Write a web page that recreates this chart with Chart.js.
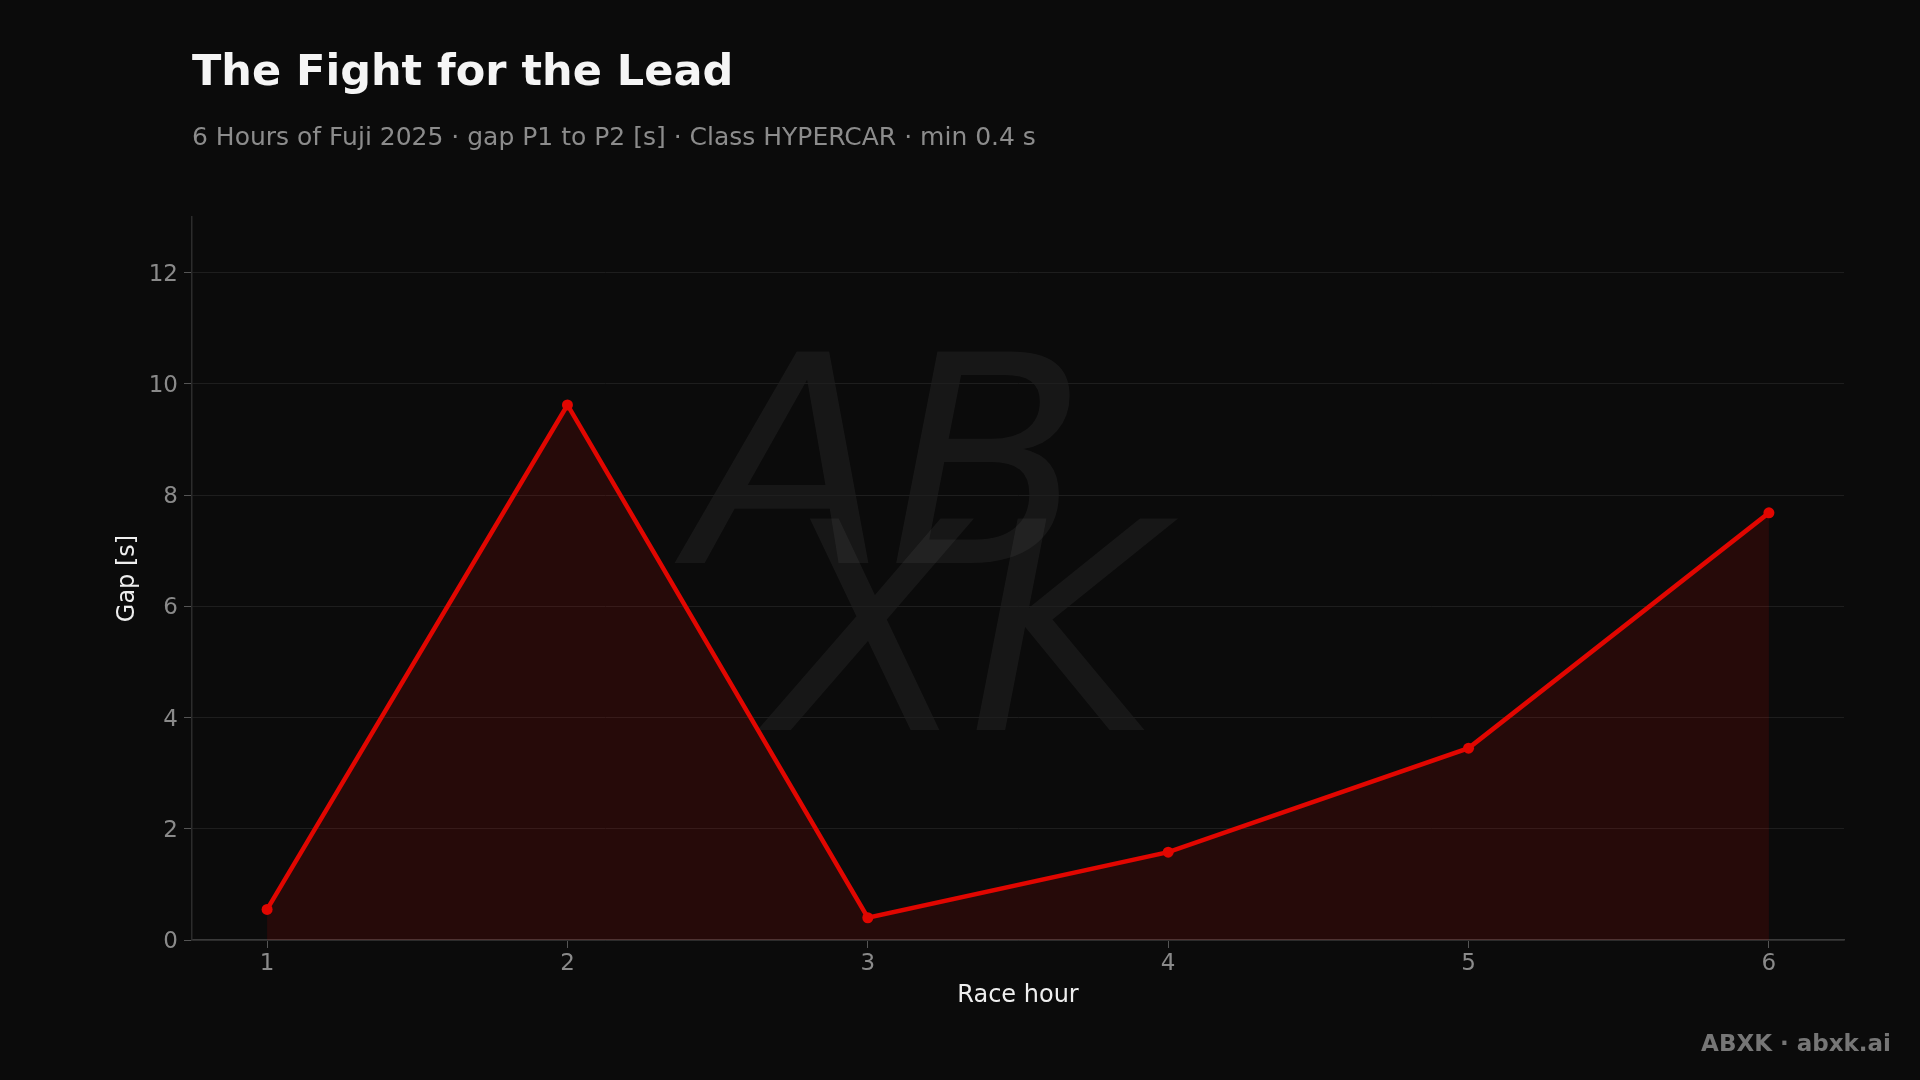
<!DOCTYPE html>
<html>
<head>
<meta charset="utf-8">
<script src="https://cdn.jsdelivr.net/npm/chart.js@4.4.1/dist/chart.umd.min.js"></script>
<style>
    html, body { margin: 0; padding: 0; background: #0b0b0b; }
    body { width: 1920px; height: 1080px; position: relative; overflow: hidden; font-family: "DejaVu Sans", sans-serif; }
    #chart { position: absolute; left: 0; top: 0; }
    .title { position: absolute; left: 192px; top: 45px; font-size: 43px; font-weight: bold; color: #f5f5f5; white-space: nowrap; }
    .subtitle { position: absolute; left: 192px; top: 122px; font-size: 25px; color: #8c8c8c; white-space: nowrap; }
    .footer { position: absolute; right: 29px; top: 1030px; font-size: 23px; font-weight: bold; color: #767676; white-space: nowrap; }
</style>
</head>
<body>
<canvas id="chart" width="1920" height="1080"></canvas>
<div class="title">The Fight for the Lead</div>
<div class="subtitle">6 Hours of Fuji 2025 · gap P1 to P2 [s] · Class HYPERCAR · min 0.4 s</div>
<div class="footer">ABXK · abxk.ai</div>
<script>
// race hours and the gap between P1 and P2 at each one
const raceHours = [1, 2, 3, 4, 5, 6];
const gapSeconds = [0.55, 9.62, 0.40, 1.58, 3.45, 7.68];
const xTicks = [1, 2, 3, 4, 5, 6];
const yTicks = [0, 2, 4, 6, 8, 10, 12];

const lineColor = '#e10600';
const tickColor = '#8a8a8a';

// faint signature watermark behind the plot
const watermark = {
    id: 'watermark',
    beforeDraw(chart) {
        const ctx = chart.ctx;
        ctx.save();
        ctx.fillStyle = '#0b0b0b';
        ctx.fillRect(0, 0, chart.width, chart.height);
        ctx.fillStyle = 'rgba(255,255,255,0.05)';
        ctx.font = 'italic 200 290px "DejaVu Sans"';
        ctx.textBaseline = 'alphabetic';
        ctx.fillText('AB', 690, 563);
        ctx.fillText('XK', 770, 730);
        ctx.restore();
    }
};

const points = raceHours.map((h, i) => ({ x: h, y: gapSeconds[i] }));

new Chart(document.getElementById('chart'), {
    type: 'line',
    data: {
        datasets: [{
            data: points,
            borderColor: lineColor,
            borderWidth: 4.5,
            backgroundColor: 'rgba(225,6,0,0.13)',
            fill: 'origin',
            pointRadius: 5.5,
            pointBackgroundColor: lineColor,
            pointBorderWidth: 0,
            tension: 0
        }]
    },
    options: {
        responsive: false,
        animation: false,
        layout: {
            padding: { left: 109, top: 217, right: 76, bottom: 66 }
        },
        plugins: {
            legend: { display: false },
            tooltip: { enabled: false }
        },
        scales: {
            x: {
                type: 'linear',
                min: 0.75,
                max: 6.25,
                afterBuildTicks: scale => { scale.ticks = xTicks.map(v => ({ value: v })); },
                afterFit: scale => { scale.height = 74; },
                grid: {
                    drawOnChartArea: false,
                    drawTicks: true,
                    tickLength: 8,
                    color: '#555555'
                },
                border: { color: '#3a3a3a', width: 1.5 },
                ticks: {
                    color: tickColor,
                    padding: 2,
                    font: { family: 'DejaVu Sans', size: 23 }
                },
                title: {
                    display: true,
                    text: 'Race hour',
                    color: '#eeeeee',
                    font: { family: 'DejaVu Sans', size: 24 }
                }
            },
            y: {
                min: 0,
                max: 13,
                afterBuildTicks: scale => { scale.ticks = yTicks.map(v => ({ value: v })); },
                afterFit: scale => { scale.width = 83; },
                grid: {
                    color: '#1e1e1e',
                    lineWidth: 1,
                    tickLength: 8,
                    tickColor: '#555555'
                },
                border: { color: '#2c2c2c', width: 1.5 },
                ticks: {
                    color: tickColor,
                    padding: 6,
                    labelOffset: 2,
                    font: { family: 'DejaVu Sans', size: 23 }
                },
                title: {
                    display: true,
                    text: 'Gap [s]',
                    color: '#eeeeee',
                    font: { family: 'DejaVu Sans', size: 24 }
                }
            }
        }
    },
    plugins: [watermark]
});
</script>
</body>
</html>
